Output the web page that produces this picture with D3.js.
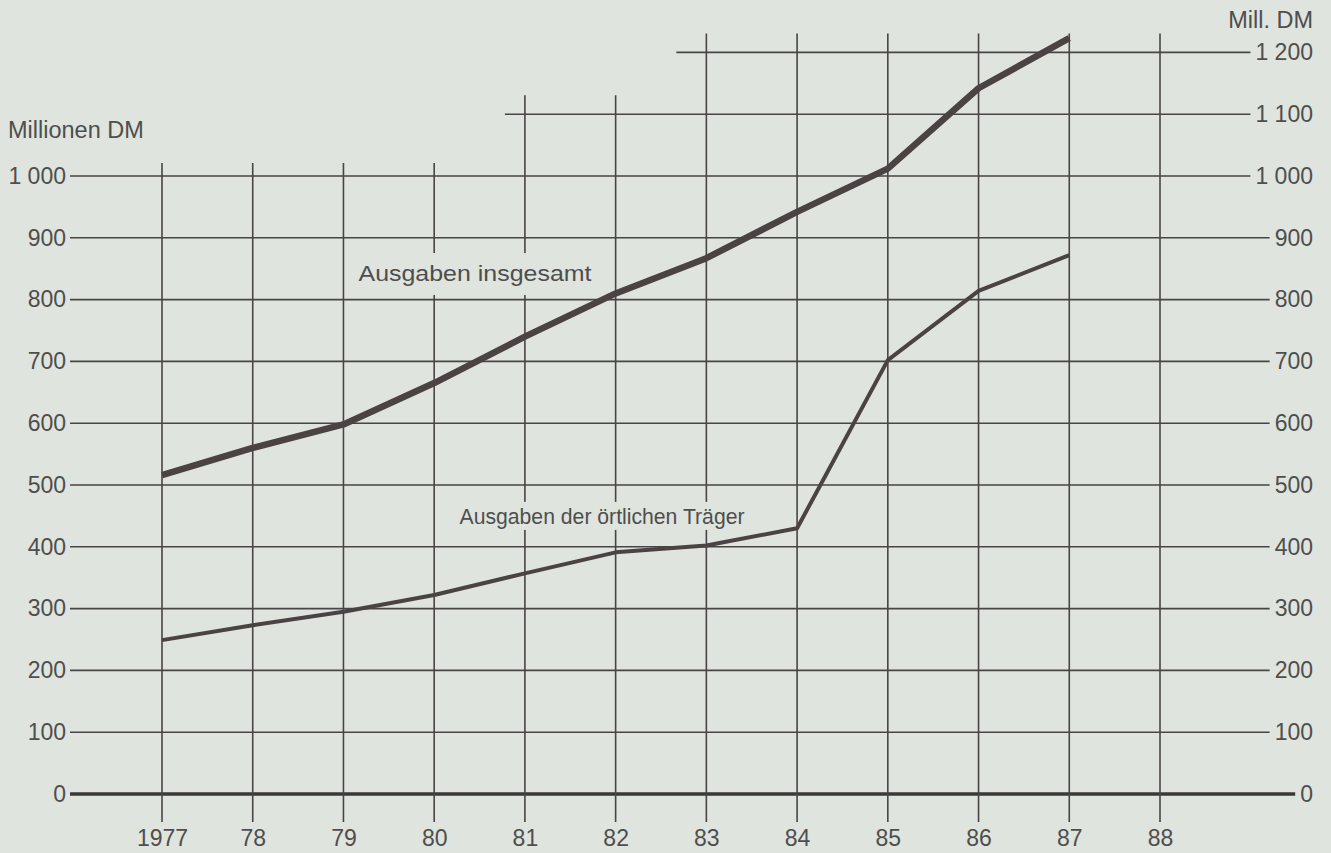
<!DOCTYPE html>
<html>
<head>
<meta charset="utf-8">
<script src="https://cdn.jsdelivr.net/npm/d3@7/dist/d3.min.js"></script>
<style>
  html, body { margin: 0; padding: 0; background: #dfe4de; }
  svg { display: block; }
  text { font-family: "Liberation Sans", Arial, Helvetica, sans-serif; fill: #4e4e4e; }
</style>
</head>
<body>
<svg id="chart" width="1331" height="853"></svg>
<script>
// ---- data ----
const years = [1977, 1978, 1979, 1980, 1981, 1982, 1983, 1984, 1985, 1986, 1987];
const totalSpending = [516, 560, 598, 665, 740, 810, 867, 942, 1012, 1142, 1223];
const localSpending = [249, 273, 295, 322, 357, 391, 402, 430, 702, 814, 872];
const gridYears = [1977, 1978, 1979, 1980, 1981, 1982, 1983, 1984, 1985, 1986, 1987, 1988];
const yearLabels = ["1977", "78", "79", "80", "81", "82", "83", "84", "85", "86", "87", "88"];
const leftTicks = [0, 100, 200, 300, 400, 500, 600, 700, 800, 900, 1000];
const leftTickLabels = ["0", "100", "200", "300", "400", "500", "600", "700", "800", "900", "1 000"];
const rightTicks = [0, 100, 200, 300, 400, 500, 600, 700, 800, 900, 1000, 1100, 1200];
const rightTickLabels = ["0", "100", "200", "300", "400", "500", "600", "700", "800", "900", "1 000", "1 100", "1 200"];
const leftUnit = "Millionen DM";
const rightUnit = "Mill. DM";
const seriesNames = ["Ausgaben insgesamt", "Ausgaben der örtlichen Träger"];

// ---- layout ----
const svg = d3.select("#chart");
const bg = "#dfe4de";
const gridColor = "#474545";
const lineColor = "#4b4343";

const x = d3.scaleLinear().domain([1977, 1988]).range([162, 1160]);
const y = d3.scaleLinear().domain([0, 1000]).range([794, 176]);

svg.append("rect").attr("width", 1331).attr("height", 853).attr("fill", bg);

// right axis labels (drawn first to measure)
const rightAxis = d3.axisRight(y)
  .tickValues(rightTicks)
  .tickFormat((d, i) => rightTickLabels[i])
  .tickSize(0).tickPadding(0);
const gR = svg.append("g").attr("transform", "translate(1313,0)").call(rightAxis);
gR.select(".domain").remove();
gR.selectAll("text")
  .attr("text-anchor", "end").attr("x", 0)
  .style("font-size", "23px").style("fill", "#4e4e4e")
  .attr("font-family", "Liberation Sans, Arial, sans-serif");

const rightStart = {};
gR.selectAll(".tick").each(function(d) {
  const bb = d3.select(this).select("text").node().getBBox();
  rightStart[d] = 1313 + bb.x - 5;
});

// left axis labels
const leftAxis = d3.axisLeft(y)
  .tickValues(leftTicks)
  .tickFormat((d, i) => leftTickLabels[i])
  .tickSize(0).tickPadding(0);
const gL = svg.append("g").attr("transform", "translate(66,0)").call(leftAxis);
gL.select(".domain").remove();
gL.selectAll("text")
  .style("font-size", "23px").style("fill", "#4e4e4e")
  .attr("font-family", "Liberation Sans, Arial, sans-serif");

// horizontal grid lines
const grid = svg.append("g");
rightTicks.forEach(v => {
  let x0 = 70;
  if (v === 1100) x0 = x(1981) - 20;
  if (v === 1200) x0 = x(1983) - 30;
  grid.append("line")
    .attr("x1", x0).attr("x2", rightStart[v])
    .attr("y1", y(v)).attr("y2", y(v))
    .attr("stroke", v === 0 ? "#3a3838" : gridColor)
    .attr("stroke-width", v === 0 ? 3.5 : 1.6);
});

// vertical grid lines
gridYears.forEach(yr => {
  const topVal = yr <= 1980 ? 1000 : (yr <= 1982 ? 1100 : 1200);
  const ext = topVal === 1000 ? 13 : 19;
  grid.append("line")
    .attr("x1", x(yr)).attr("x2", x(yr))
    .attr("y1", y(topVal) - ext).attr("y2", 822)
    .attr("stroke", gridColor).attr("stroke-width", 1.6);
});

// x axis labels
const bottomAxis = d3.axisBottom(x)
  .tickValues(gridYears)
  .tickFormat((d, i) => yearLabels[i])
  .tickSize(0).tickPadding(0);
const gB = svg.append("g").attr("transform", "translate(0,830)").call(bottomAxis);
gB.select(".domain").remove();
gB.selectAll("text")
  .attr("dy", "0.71em").attr("y", 0)
  .style("font-size", "23px").style("fill", "#4e4e4e")
  .attr("font-family", "Liberation Sans, Arial, sans-serif");

// unit labels
svg.append("text").attr("x", 8).attr("y", 130).attr("dy", "0.35em")
  .style("font-size", "23.5px").text(leftUnit);
svg.append("text").attr("x", 1313).attr("y", 20).attr("dy", "0.35em")
  .attr("text-anchor", "end").style("font-size", "23.5px").text(rightUnit);

// series labels with gaps in grid
const labels = [
  { text: seriesNames[0], cx: x(1980.45), cy: y(843), w: 233, padTop: 20, padBot: 22 },
  { text: seriesNames[1], cx: x(1981.85), cy: y(450), w: 285, padTop: 14, padBot: 14 }
];
labels.forEach(l => {
  svg.append("rect")
    .attr("x", l.cx - l.w / 2 - 5).attr("y", l.cy - l.padTop)
    .attr("width", l.w + 10).attr("height", l.padTop + l.padBot)
    .attr("fill", bg);
  svg.append("text")
    .attr("x", l.cx - l.w / 2).attr("y", l.cy).attr("dy", "0.35em")
    .attr("textLength", l.w).attr("lengthAdjust", "spacingAndGlyphs")
    .style("font-size", "22px").text(l.text);
});

// data lines
const line = d3.line().x((d, i) => x(years[i])).y(d => y(d));
svg.append("path").datum(localSpending)
  .attr("d", line).attr("fill", "none")
  .attr("stroke", lineColor).attr("stroke-width", 4)
  .attr("stroke-linejoin", "round");
svg.append("path").datum(totalSpending)
  .attr("d", line).attr("fill", "none")
  .attr("stroke", lineColor).attr("stroke-width", 6.5)
  .attr("stroke-linejoin", "round");
</script>
</body>
</html>
